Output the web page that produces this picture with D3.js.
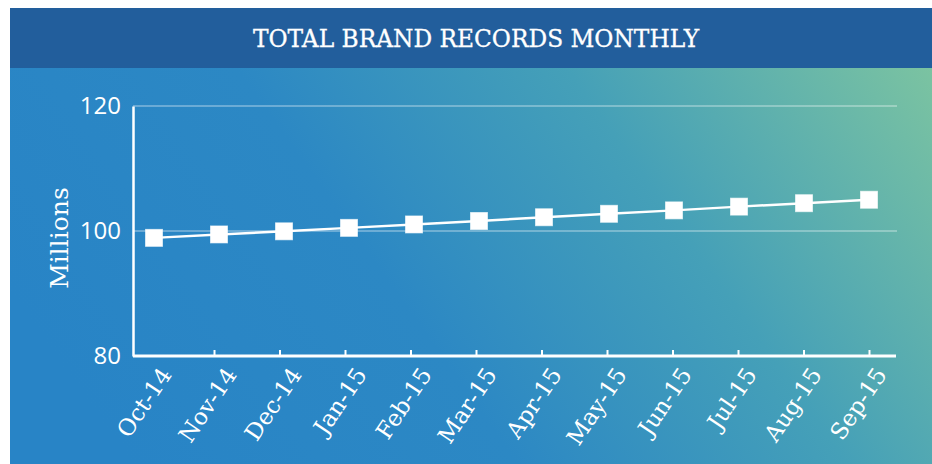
<!DOCTYPE html>
<html><head><meta charset="utf-8">
<script src="https://cdn.jsdelivr.net/npm/d3@7"></script>
<style>html,body{margin:0;padding:0;background:#fff;overflow:hidden}</style>
</head><body>
<svg id="c" width="932" height="464"></svg>
<script>
const title = "TOTAL BRAND RECORDS MONTHLY";
const yLabel = "Millions";
const categories = ["Oct-14","Nov-14","Dec-14","Jan-15","Feb-15","Mar-15","Apr-15","May-15","Jun-15","Jul-15","Aug-15","Sep-15"];
const values = [98.9, 99.45, 99.95, 100.5, 101.05, 101.6, 102.2, 102.75, 103.3, 103.9, 104.45, 105.0];
const yTicks = [80, 100, 120];

const svg = d3.select("#c");
const defs = svg.append("defs");
const grad = defs.append("linearGradient").attr("id","bg")
  .attr("gradientUnits","userSpaceOnUse")
  .attr("x1",200).attr("y1",560).attr("x2",932).attr("y2",40);
grad.append("stop").attr("offset","0").attr("stop-color","#2884c6");
grad.append("stop").attr("offset","0.35").attr("stop-color","#2c88c4");
grad.append("stop").attr("offset","0.65").attr("stop-color","#45a0b8");
grad.append("stop").attr("offset","1").attr("stop-color","#7ec5a0");

svg.append("rect").attr("x",10).attr("y",68).attr("width",922).attr("height",396).attr("fill","url(#bg)");
svg.append("rect").attr("x",10).attr("y",8).attr("width",922).attr("height",60).attr("fill","#225e9c");
svg.append("text").attr("x",476).attr("y",46.5).attr("text-anchor","middle")
  .attr("font-family","DejaVu Serif").attr("font-size",23.3).attr("fill","#fff")
  .attr("stroke","#fff").attr("stroke-width",0.3).text(title);

const x = d3.scalePoint().domain(categories).range([154, 869]);
const xt = d3.scalePoint().domain(categories.slice(1)).range([214, 869]);
const y = d3.scaleLinear().domain([80,120]).range([356,106]);

// gridlines
svg.append("g").selectAll("line").data(yTicks.filter(d=>d>80)).join("line")
  .attr("x1",133).attr("x2",897).attr("y1",d=>y(d)).attr("y2",d=>y(d))
  .attr("stroke","rgba(255,255,255,0.3)").attr("stroke-width",2);

// y axis
const ya = svg.append("g").attr("transform","translate(133,0)")
  .call(d3.axisLeft(y).tickValues(yTicks).tickSize(0).tickPadding(12));
ya.select(".domain").attr("stroke","#fff").attr("stroke-width",2.5);
ya.selectAll("text").attr("fill","#fff").attr("font-family","Open Sans").attr("font-size",24);

// x axis
const xa = svg.append("g").attr("transform","translate(0,356)")
  .call(d3.axisTop(xt).tickSize(6).tickFormat(""));
xa.select(".domain").attr("d","M133,0H896").attr("stroke","#fff").attr("stroke-width",3);
xa.selectAll(".tick line").attr("stroke","#fff").attr("stroke-width",2);

svg.append("g").selectAll("text").data(categories).join("text")
  .attr("transform",d=>`translate(${x(d)+12},${370}) rotate(-56)`)
  .attr("text-anchor","end").attr("dy","0.35em")
  .attr("font-family","DejaVu Serif").attr("font-size",23).attr("fill","#fff").text(d=>d);

// y label
svg.append("text").attr("transform","translate(68,238) rotate(-90)").attr("text-anchor","middle")
  .attr("font-family","DejaVu Serif").attr("font-size",25).attr("fill","#fff").text(yLabel);

// line
const line = d3.line().x((d,i)=>x(categories[i])).y(d=>y(d));
svg.append("path").datum(values).attr("d",line).attr("fill","none").attr("stroke","#fff").attr("stroke-width",2.5);
svg.append("g").selectAll("rect").data(values).join("rect")
  .attr("x",(d,i)=>x(categories[i])-8.5).attr("y",d=>y(d)-8.5).attr("width",17).attr("height",17)
  .attr("fill","#fff").attr("stroke","rgba(255,255,255,0.6)").attr("stroke-width",1);
</script>
</body></html>
